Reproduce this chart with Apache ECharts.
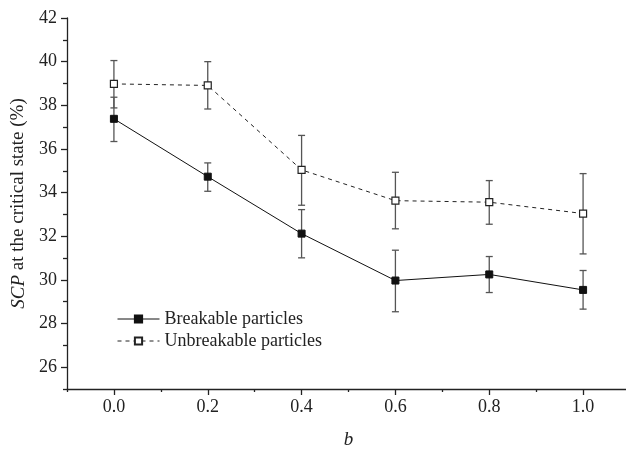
<!DOCTYPE html>
<html>
<head>
<meta charset="utf-8">
<script src="https://cdn.jsdelivr.net/npm/echarts@6/dist/echarts.min.js"></script>
<style>html,body{margin:0;padding:0;background:#fff;}#c{width:626px;height:450px;}</style>
</head>
<body>
<div id="c"></div>
<script>
var bValues = [0.0, 0.2, 0.4, 0.6, 0.8, 1.0];
var breakable = [37.38, 34.73, 32.12, 29.97, 30.25, 29.54];
var breakableLow = [36.34, 34.06, 31.01, 28.54, 29.42, 28.66];
var breakableHigh = [38.37, 35.36, 33.22, 31.36, 31.07, 30.43];
var unbreakable = [38.98, 38.91, 35.04, 33.63, 33.56, 33.04];
var unbreakableLow = [37.88, 37.83, 33.42, 32.34, 32.55, 31.19];
var unbreakableHigh = [40.05, 40.00, 36.62, 34.93, 34.55, 34.87];
var xTickLabels = [0.0, 0.2, 0.4, 0.6, 0.8, 1.0];
var xMinorTicks = [-0.1, 0.1, 0.3, 0.5, 0.7, 0.9, 1.1];
var yTickLabels = [26, 28, 30, 32, 34, 36, 38, 40, 42];
var yMinorTicks = [25, 27, 29, 31, 33, 35, 37, 39, 41];

var FONT = '"Liberation Serif", "Times New Roman", serif';
var chart = echarts.init(document.getElementById('c'));

function pairs(xs, ys) { return xs.map(function (x, i) { return [x, ys[i]]; }); }
function errData(xs, lo, hi) { return xs.map(function (x, i) { return [x, lo[i], hi[i]]; }); }

function errRender(params, api) {
  var x = api.value(0), lo = api.value(1), hi = api.value(2);
  var p1 = api.coord([x, lo]), p2 = api.coord([x, hi]);
  var hw = 3.5;
  var st = { stroke: '#555', lineWidth: 1.3 };
  return {
    type: 'group',
    children: [
      { type: 'line', shape: { x1: p1[0], y1: p1[1], x2: p2[0], y2: p2[1] }, style: st },
      { type: 'line', shape: { x1: p1[0] - hw, y1: p1[1], x2: p1[0] + hw, y2: p1[1] }, style: st },
      { type: 'line', shape: { x1: p2[0] - hw, y1: p2[1], x2: p2[0] + hw, y2: p2[1] }, style: st }
    ]
  };
}

chart.setOption({
  backgroundColor: '#fff',
  animation: false,
  grid: { left: 67, top: 18, width: 563, height: 371, containLabel: false, outerBoundsMode: 'none' },
  legend: {
    left: 112, top: 305, orient: 'vertical',
    itemWidth: 42, itemHeight: 9, itemGap: 4,
    textStyle: { fontFamily: FONT, fontSize: 18, color: '#222' },
    lineStyle: { width: 1 },
    data: ['Breakable particles', 'Unbreakable particles']
  },
  xAxis: [{
    type: 'value', min: -0.1, max: 1.1,
    name: 'b', nameLocation: 'middle', nameGap: 41,
    nameTextStyle: { fontFamily: FONT, fontSize: 19, fontStyle: 'italic', color: '#222' },
    axisLine: { show: true, onZero: false, lineStyle: { color: '#222', width: 1.3 } },
    axisTick: { show: true, inside: false, length: 6, customValues: xTickLabels, lineStyle: { color: '#222', width: 1.3 } },
    axisLabel: { show: true, margin: 9, customValues: xTickLabels, fontFamily: FONT, fontSize: 18, color: '#222',
      formatter: function (v) { return v.toFixed(1); } },
    splitLine: { show: false }
  }, {
    type: 'value', min: -0.1, max: 1.1, position: 'bottom',
    axisLine: { show: false, onZero: false },
    axisTick: { show: true, inside: false, length: 3, customValues: xMinorTicks, lineStyle: { color: '#222', width: 1.3 } },
    axisLabel: { show: false },
    splitLine: { show: false }
  }],
  yAxis: [{
    type: 'value', min: 25, max: 42,
    name: '{i|SCP} at the critical state (%)', nameLocation: 'middle', nameGap: 39, nameRotate: 90,
    nameTextStyle: { fontFamily: FONT, fontSize: 19, color: '#222',
      rich: { i: { fontFamily: FONT, fontSize: 19, fontStyle: 'italic', color: '#222' } } },
    axisLine: { show: true, onZero: false, lineStyle: { color: '#222', width: 1.3 } },
    axisTick: { show: true, inside: false, length: 6, customValues: yTickLabels, lineStyle: { color: '#222', width: 1.3 } },
    axisLabel: { show: true, margin: 10, customValues: yTickLabels, fontFamily: FONT, fontSize: 18, color: '#222' },
    splitLine: { show: false }
  }, {
    type: 'value', min: 25, max: 42, position: 'left',
    axisLine: { show: false, onZero: false },
    axisTick: { show: true, inside: false, length: 4, customValues: yMinorTicks, lineStyle: { color: '#222', width: 1.3 } },
    axisLabel: { show: false },
    splitLine: { show: false }
  }],
  series: [
    {
      type: 'custom', name: 'errB', renderItem: errRender, data: errData(bValues, breakableLow, breakableHigh),
      encode: { x: 0, y: [1, 2] }, z: 1, silent: true
    },
    {
      type: 'custom', name: 'errU', renderItem: errRender, data: errData(bValues, unbreakableLow, unbreakableHigh),
      encode: { x: 0, y: [1, 2] }, z: 1, silent: true
    },
    {
      type: 'line', name: 'Breakable particles', data: pairs(bValues, breakable),
      symbol: 'rect', symbolSize: 7, showAllSymbol: true,
      lineStyle: { color: '#111', width: 1, type: 'solid' },
      itemStyle: { color: '#111', borderColor: '#111', borderWidth: 1 },
      z: 3
    },
    {
      type: 'line', name: 'Unbreakable particles', data: pairs(bValues, unbreakable),
      symbol: 'rect', symbolSize: 7, showAllSymbol: true,
      lineStyle: { color: '#222', width: 1, type: [4, 4] },
      itemStyle: { color: '#fff', borderColor: '#222', borderWidth: 1.2 },
      z: 3
    }
  ]
});
</script>
</body>
</html>
